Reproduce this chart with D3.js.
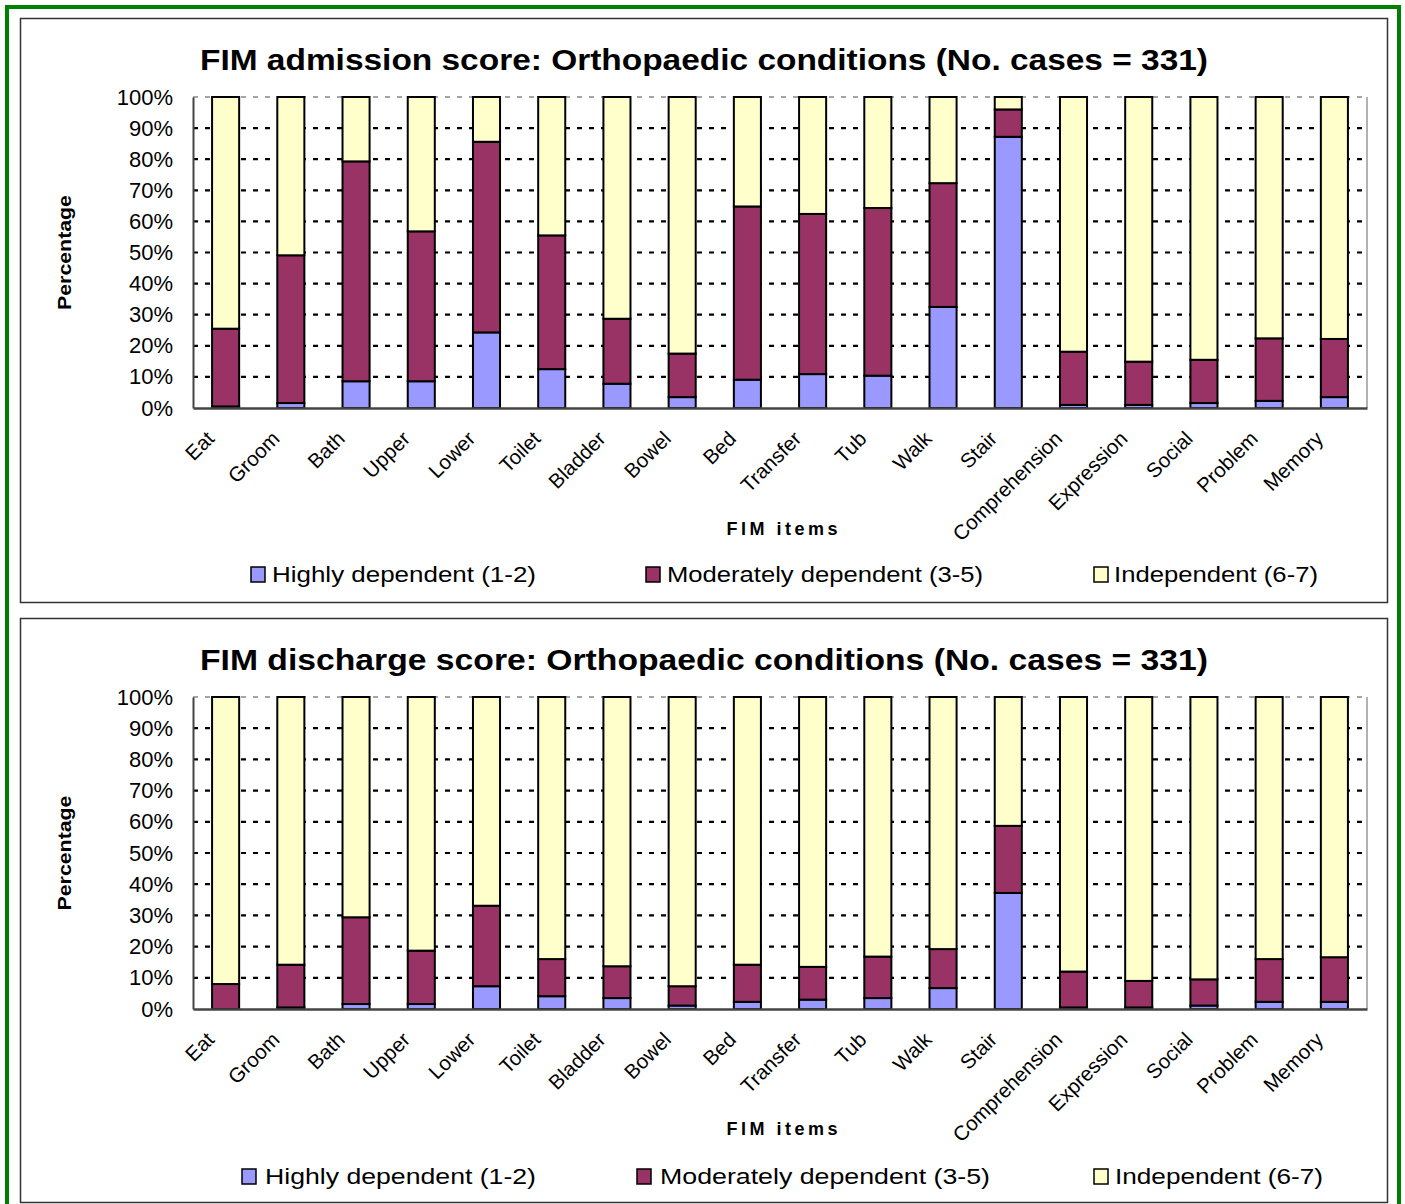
<!DOCTYPE html>
<html><head><meta charset="utf-8">
<script src="https://cdn.jsdelivr.net/npm/d3@7"></script>
<style>body{margin:0;background:#fff}svg{display:block}text{font-family:Arial,"Liberation Sans",sans-serif}</style>
</head><body>
<svg id="c" width="1405" height="1204"></svg>
<script>
const categories = ["Eat","Groom","Bath","Upper","Lower","Toilet","Bladder","Bowel","Bed","Transfer","Tub","Walk","Stair","Comprehension","Expression","Social","Problem","Memory"];
const seriesNames = ["Highly dependent (1-2)","Moderately dependent (3-5)","Independent (6-7)"];
const seriesColors = ["#9999FF","#993366","#FFFFCC"];
const yTicks = [0,10,20,30,40,50,60,70,80,90,100];
// Admission
const admHigh = [0.5,1.6,8.6,8.6,24.3,12.5,7.8,3.5,9.1,10.9,10.4,32.5,87.2,1.0,1.0,1.6,2.3,3.5];
const admMod  = [25.0,47.5,70.7,48.2,61.3,43.0,20.9,14.0,55.7,51.5,53.9,39.8,8.8,17.1,13.9,13.9,20.1,18.7];
const admInd  = [74.5,50.9,20.7,43.2,14.4,44.5,71.3,82.5,35.2,37.6,35.7,27.7,4.0,81.9,85.1,84.5,77.6,77.8];
// Discharge
const disHigh = [0.0,0.5,1.6,1.6,7.3,4.1,3.5,1.1,2.3,3.0,3.5,6.7,37.2,0.5,0.5,1.1,2.3,2.3];
const disMod  = [8.0,13.7,27.8,17.1,25.8,11.9,10.2,6.2,11.9,10.5,13.3,12.5,21.5,11.5,8.5,8.4,13.7,14.3];
const disInd  = [92.0,85.8,70.6,81.3,66.9,84.0,86.3,92.7,85.8,86.5,83.2,80.8,41.3,88.0,91.0,90.5,84.0,83.4];

const svg = d3.select("#c");
svg.append("rect").attr("x",7).attr("y",7).attr("width",1392).attr("height",1210)
  .attr("fill","none").attr("stroke","#008000").attr("stroke-width",4);

function panel(cfg){
  const g = svg.append("g");
  g.append("rect").attr("x",20.5).attr("y",cfg.py).attr("width",1367).attr("height",cfg.ph)
    .attr("fill","#fff").attr("stroke","#333").attr("stroke-width",1.5);
  const x = d3.scaleBand().domain(categories).range([193,1367]).paddingInner(0.585).paddingOuter(0.2925);
  const y = d3.scaleLinear().domain([0,100]).range([cfg.y0,cfg.y1]);
  g.append("text").attr("x",704).attr("y",cfg.titleY).attr("text-anchor","middle")
    .attr("font-size",29).attr("font-weight","bold")
    .attr("textLength",1008).attr("lengthAdjust","spacingAndGlyphs").text(cfg.title);
  g.append("g").selectAll("line").data(yTicks.filter(t=>t>0)).join("line")
    .attr("x1",193).attr("x2",1367).attr("y1",d=>y(d)).attr("y2",d=>y(d))
    .attr("stroke",d=>d===100?"#888":"#000").attr("stroke-width",d=>d===100?1.3:2.2)
    .attr("stroke-dasharray","5,7");
  g.append("line").attr("x1",1367).attr("x2",1367).attr("y1",y(100)).attr("y2",y(0))
    .attr("stroke","#999").attr("stroke-width",1.5);
  const data = categories.map((c,i)=>({c, v:[cfg.high[i],cfg.mod[i],cfg.ind[i]]}));
  data.forEach(d=>{
    let base=0;
    d.v.forEach((val,k)=>{
      if(val<=0){return;}
      g.append("rect").attr("x",x(d.c)).attr("width",x.bandwidth())
        .attr("y",y(base+val)).attr("height",y(base)-y(base+val))
        .attr("fill",seriesColors[k]).attr("stroke","#000").attr("stroke-width",2);
      base+=val;
    });
  });
  const ya = d3.axisLeft(y).tickValues(yTicks).tickFormat(d=>d+"%").tickSize(0).tickPadding(20);
  const yg = g.append("g").attr("transform","translate(193,0)").call(ya);
  yg.select(".domain").attr("stroke","#444").attr("stroke-width",2);
  yg.selectAll("text").attr("font-size",22).attr("fill","#000").attr("font-family","Arial, Liberation Sans, sans-serif");
  const xa = d3.axisBottom(x).tickSize(0).tickFormat(d=>d);
  const xg = g.append("g").attr("transform",`translate(0,${cfg.y0})`).call(xa);
  xg.select(".domain").attr("stroke","#444").attr("stroke-width",2.5);
  xg.selectAll("text").attr("font-size",20.5).attr("fill","#000").attr("font-family","Arial, Liberation Sans, sans-serif")
    .attr("text-anchor","end").attr("dy",0).attr("y",0)
    .attr("transform","translate(-10,32) rotate(-45)");
  g.append("text").attr("transform",`translate(71,${(cfg.y0+cfg.y1)/2}) rotate(-90)`)
    .attr("text-anchor","middle").attr("font-size",18).attr("font-weight","bold")
    .attr("textLength",115).attr("lengthAdjust","spacingAndGlyphs").text("Percentage");
  g.append("text").attr("x",782).attr("y",cfg.xtY).attr("text-anchor","middle")
    .attr("font-size",18).attr("font-weight","bold")
    .attr("textLength",111).attr("lengthAdjust","spacing").text("FIM items");
  cfg.leg.forEach((L,k)=>{
    g.append("rect").attr("x",L.sx).attr("y",cfg.legY-15).attr("width",14).attr("height",15)
      .attr("fill",seriesColors[k]).attr("stroke","#000").attr("stroke-width",1.5);
    g.append("text").attr("x",L.tx).attr("y",cfg.legY).attr("font-size",22)
      .attr("textLength",L.tw).attr("lengthAdjust","spacingAndGlyphs").text(seriesNames[k]);
  });
}

panel({py:18.5,ph:584,y0:408,y1:97,titleY:70,title:"FIM admission score: Orthopaedic conditions (No. cases = 331)",
  high:admHigh,mod:admMod,ind:admInd,xtY:535,legY:582,
  leg:[{sx:251,tx:272,tw:264},{sx:646,tx:667,tw:316},{sx:1094,tx:1114,tw:204}]});
panel({py:618.5,ph:584,y0:1009,y1:697,titleY:670,title:"FIM discharge score: Orthopaedic conditions (No. cases = 331)",
  high:disHigh,mod:disMod,ind:disInd,xtY:1135,legY:1184,
  leg:[{sx:242,tx:265,tw:271},{sx:637,tx:660,tw:330},{sx:1094,tx:1115,tw:208}]});
</script>
</body></html>
